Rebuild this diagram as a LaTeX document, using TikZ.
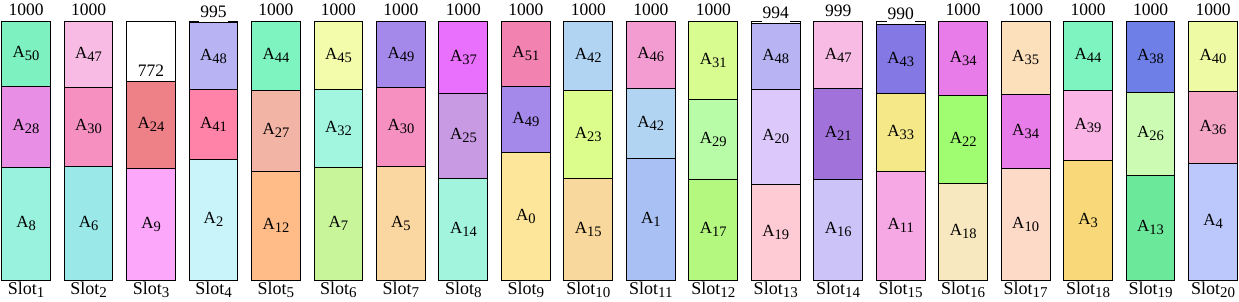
\documentclass[tikz,border=0pt]{standalone}
\usepackage{fontspec}
\setmainfont{Liberation Serif}
\newcommand\asub[1]{\raisebox{-3pt}{\fontsize{14.5}{15}\selectfont #1}}
\newcommand\ssub[1]{\raisebox{-3.5pt}{\fontsize{15}{16}\selectfont #1}}
\definecolor{colA0}{HTML}{FDE69A}
\definecolor{colA1}{HTML}{A8C0F4}
\definecolor{colA2}{HTML}{C8F4FA}
\definecolor{colA3}{HTML}{F8D878}
\definecolor{colA4}{HTML}{BCC8FC}
\definecolor{colA5}{HTML}{FAD6A0}
\definecolor{colA6}{HTML}{9AE8E8}
\definecolor{colA7}{HTML}{C8F49A}
\definecolor{colA8}{HTML}{98F2DE}
\definecolor{colA9}{HTML}{FDA7FA}
\definecolor{colA10}{HTML}{FDDAC8}
\definecolor{colA11}{HTML}{F6A8E4}
\definecolor{colA12}{HTML}{FFBB88}
\definecolor{colA13}{HTML}{6CE89A}
\definecolor{colA14}{HTML}{A2F4DC}
\definecolor{colA15}{HTML}{F8D89C}
\definecolor{colA16}{HTML}{CCC4F8}
\definecolor{colA17}{HTML}{B4F880}
\definecolor{colA18}{HTML}{F8E8C0}
\definecolor{colA19}{HTML}{FECAD4}
\definecolor{colA20}{HTML}{DCC8FA}
\definecolor{colA21}{HTML}{A072DA}
\definecolor{colA22}{HTML}{A0FC70}
\definecolor{colA23}{HTML}{DCFC8C}
\definecolor{colA24}{HTML}{EE8088}
\definecolor{colA25}{HTML}{C89AE4}
\definecolor{colA26}{HTML}{CCFCB4}
\definecolor{colA27}{HTML}{F2B4A4}
\definecolor{colA28}{HTML}{E88EE4}
\definecolor{colA29}{HTML}{B8FCA8}
\definecolor{colA30}{HTML}{F590C0}
\definecolor{colA31}{HTML}{D8FC90}
\definecolor{colA32}{HTML}{A2F6E0}
\definecolor{colA33}{HTML}{F4E888}
\definecolor{colA34}{HTML}{E87CE8}
\definecolor{colA35}{HTML}{FCE0BC}
\definecolor{colA36}{HTML}{F4A6C4}
\definecolor{colA37}{HTML}{E970FC}
\definecolor{colA38}{HTML}{6E80E8}
\definecolor{colA39}{HTML}{FAB4E6}
\definecolor{colA40}{HTML}{EEFAA4}
\definecolor{colA41}{HTML}{FF82A8}
\definecolor{colA42}{HTML}{B0D4F2}
\definecolor{colA43}{HTML}{8478E4}
\definecolor{colA44}{HTML}{7EF4C0}
\definecolor{colA45}{HTML}{F2FCAA}
\definecolor{colA46}{HTML}{F29CD2}
\definecolor{colA47}{HTML}{F7BBE4}
\definecolor{colA48}{HTML}{B8B4F4}
\definecolor{colA49}{HTML}{A488EA}
\definecolor{colA50}{HTML}{7DF2C0}
\definecolor{colA51}{HTML}{F282B0}
\tikzset{
  outline/.style={draw, fill=white, line width=1pt, inner sep=0pt,
    minimum width=48.8pt, minimum height=258.7pt},
  seg/.style={draw, line width=1pt, inner sep=0pt, minimum width=48.8pt,
    font=\fontsize{17}{19}\selectfont},
  vallab/.style={fill=white, inner xsep=1pt, inner ysep=5pt, anchor=south,
    font=\fontsize{17.5}{19}\selectfont},
  slotlab/.style={anchor=base, inner sep=0pt, font=\fontsize{18}{20}\selectfont}
}
\begin{document}
\begin{tikzpicture}[x=1pt,y=-1pt]
\useasboundingbox (0,0) rectangle (1239,302);
% outlines and capacity labels
\foreach \i/\top/\val in {1/21.3/1000,2/21.3/1000,3/81.3/772,4/22.8/995,5/21.3/1000,
  6/21.3/1000,7/21.3/1000,8/21.3/1000,9/21.3/1000,10/21.3/1000,
  11/21.3/1000,12/21.3/1000,13/23.8/994,14/21.6/999,15/25.0/990,
  16/21.3/1000,17/21.3/1000,18/21.3/1000,19/21.3/1000,20/21.3/1000}{
  \pgfmathsetmacro\cx{26.1+62.47*(\i-1)}
  \node[outline] (o\i) at (\cx,150.65) {};
  \node[vallab] (v\i) at (\cx,\top) {\val};
  \node[slotlab] (l\i) at (\cx,294) {Slot\ssub{\i}};
}
% segments
\foreach \i/\ya/\yb/\n in {
  1/21.3/86.3/50, 1/86.3/167/28, 1/167/280/8,
  2/21.3/87.3/47, 2/87.3/166.3/30, 2/166.3/280/6,
  3/81.3/168.3/24, 3/168.3/280/9,
  4/22.8/89.3/48, 4/89.3/159.3/41, 4/159.3/280/2,
  5/21.3/90.3/44, 5/90.3/171.3/27, 5/171.3/280/12,
  6/21.3/89.3/45, 6/89.3/167.3/32, 6/167.3/280/7,
  7/21.3/87.3/49, 7/87.3/166.3/30, 7/166.3/280/5,
  8/21.3/93.3/37, 8/93.3/178.3/25, 8/178.3/280/14,
  9/21.3/86.3/51, 9/86.3/152.3/49, 9/152.3/280/0,
  10/21.3/90.3/42, 10/90.3/178.3/23, 10/178.3/280/15,
  11/21.3/88.3/46, 11/88.3/158.3/42, 11/158.3/280/1,
  12/21.3/99.3/31, 12/99.3/179.3/29, 12/179.3/280/17,
  13/23.8/89.3/48, 13/89.3/184.3/20, 13/184.3/280/19,
  14/21.6/88.3/47, 14/88.3/179.3/21, 14/179.3/280/16,
  15/25.0/93.3/43, 15/93.3/171.3/33, 15/171.3/280/11,
  16/21.3/95.3/34, 16/95.3/183.3/22, 16/183.3/280/18,
  17/21.3/94.3/35, 17/94.3/168.3/34, 17/168.3/280/10,
  18/21.3/90.3/44, 18/90.3/160.3/39, 18/160.3/280/3,
  19/21.3/92.3/38, 19/92.3/175.3/26, 19/175.3/280/13,
  20/21.3/91.3/40, 20/91.3/163.3/36, 20/163.3/280/4}{
  \pgfmathsetmacro\cx{26.1+62.47*(\i-1)}
  \pgfmathsetmacro\cy{(\ya+\yb)/2}
  \pgfmathsetmacro\h{\yb-\ya}
  \node[seg, fill=colA\n, minimum height=\h pt] (s\i-\n) at (\cx,\cy) {A\asub{\n}};
}
\end{tikzpicture}
\end{document}
